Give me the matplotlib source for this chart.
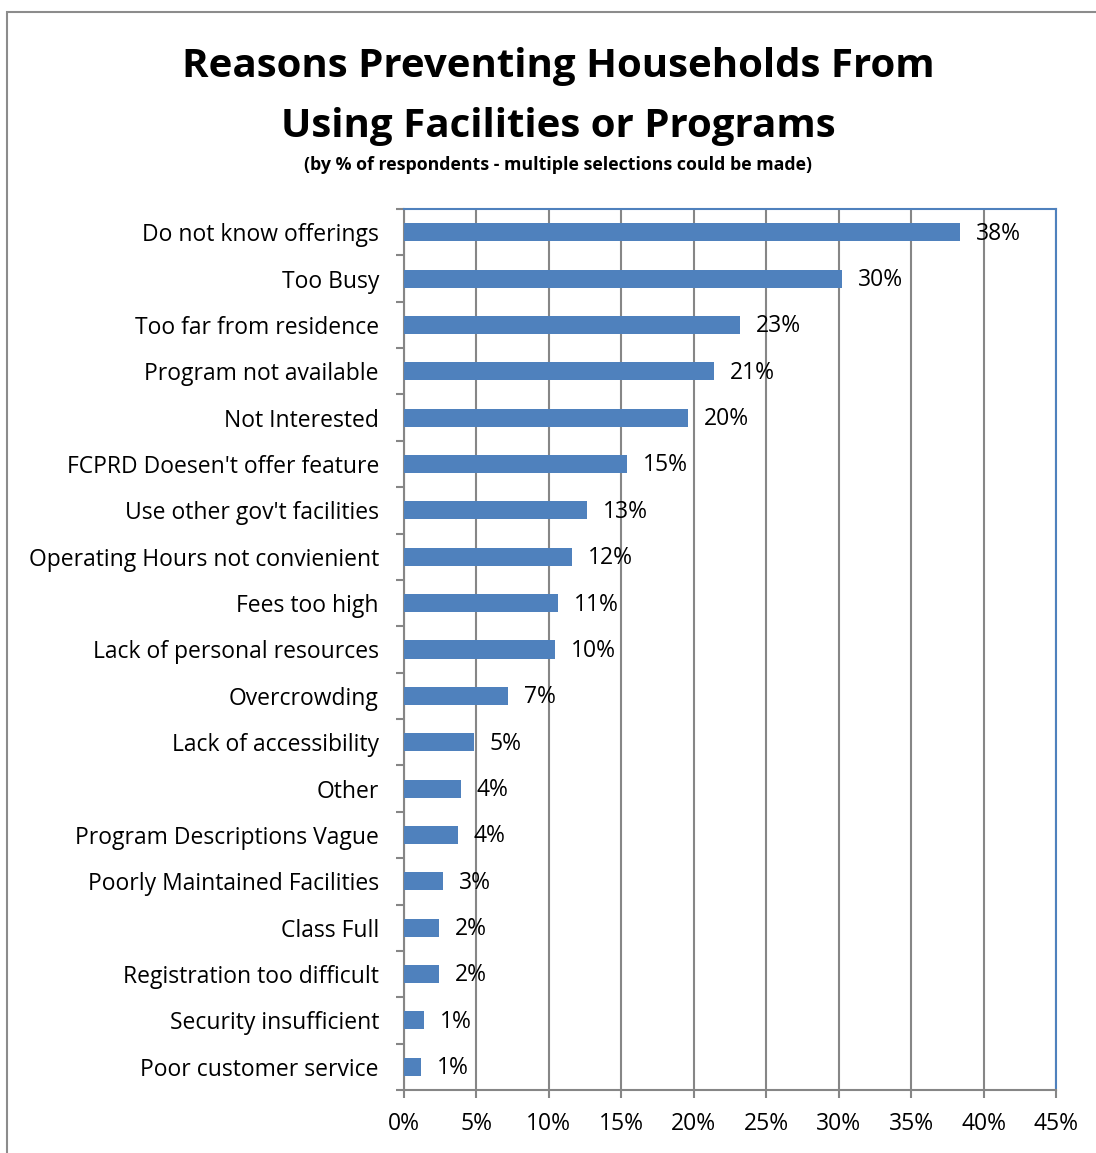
import matplotlib.pyplot as plt
from matplotlib.patches import Rectangle

# data, top to bottom as shown
reasons = ["Do not know offerings", "Too Busy", "Too far from residence",
           "Program not available", "Not Interested", "FCPRD Doesen't offer feature",
           "Use other gov't facilities", "Operating Hours not convienient",
           "Fees too high", "Lack of personal resources", "Overcrowding",
           "Lack of accessibility", "Other", "Program Descriptions Vague",
           "Poorly Maintained Facilities", "Class Full", "Registration too difficult",
           "Security insufficient", "Poor customer service"]
pct = [38.4, 30.2, 23.2, 21.4, 19.6, 15.4, 12.6, 11.6, 10.6, 10.4,
       7.2, 4.8, 3.9, 3.7, 2.7, 2.4, 2.4, 1.4, 1.2]
xticks = [0, 5, 10, 15, 20, 25, 30, 35, 40, 45]

plt.rcParams['font.family'] = ['Open Sans', 'DejaVu Sans']

fig = plt.figure(figsize=(10.96, 11.53), dpi=100)
ax = fig.add_axes([404/1096, 1 - 1090/1153, 652/1096, 881/1153])

# outer frame (left and top only visible)
fig.patches.append(Rectangle((7/1096, -0.1), 1.2, 1 - 12/1153 + 0.1,
                             transform=fig.transFigure, fill=False,
                             edgecolor='#8c8c8c', linewidth=1.5))

n = len(reasons)
ypos = list(range(n))
ax.barh(ypos, pct, height=0.39, color='#4F81BD', zorder=3)
for y, v in zip(ypos, pct):
    ax.text(v + 1.1, y + 0.03, "%.0f%%" % v, va='center', ha='left', fontsize=16.5, zorder=4)

ax.set_ylim(n - 0.5, -0.5)
ax.set_xlim(0, 45)
ax.set_xticks(xticks)
ax.set_xticklabels(["%d%%" % t for t in xticks], fontsize=16.5)
ax.set_yticks(ypos)
ax.set_yticklabels(reasons, fontsize=16.5)
ax.set_yticks([i - 0.5 for i in range(n + 1)], minor=True)
ax.tick_params(axis='y', which='major', length=0, pad=18)
ax.tick_params(axis='y', which='minor', length=6, color='#868686', width=1.5)
ax.tick_params(axis='x', length=6, color='#868686', width=1.5, pad=10)

ax.grid(axis='x', color='#868686', linewidth=1.5, zorder=0)
ax.set_axisbelow(True)
for s in ['left', 'bottom']:
    ax.spines[s].set_color('#868686')
    ax.spines[s].set_linewidth(1.5)
for s in ['top', 'right']:
    ax.spines[s].set_color('#4F81BD')
    ax.spines[s].set_linewidth(1.5)

fig.text(0.509, 1 - 67/1153, "Reasons Preventing Households From", ha='center', va='center',
         fontsize=29, fontweight='bold')
fig.text(0.509, 1 - 126/1153, "Using Facilities or Programs", ha='center', va='center',
         fontsize=29, fontweight='bold')
fig.text(0.509, 1 - 165/1153, "(by % of respondents - multiple selections could be made)",
         ha='center', va='center', fontsize=12.8, fontweight='bold')

fig.savefig("out.png", dpi=100)
